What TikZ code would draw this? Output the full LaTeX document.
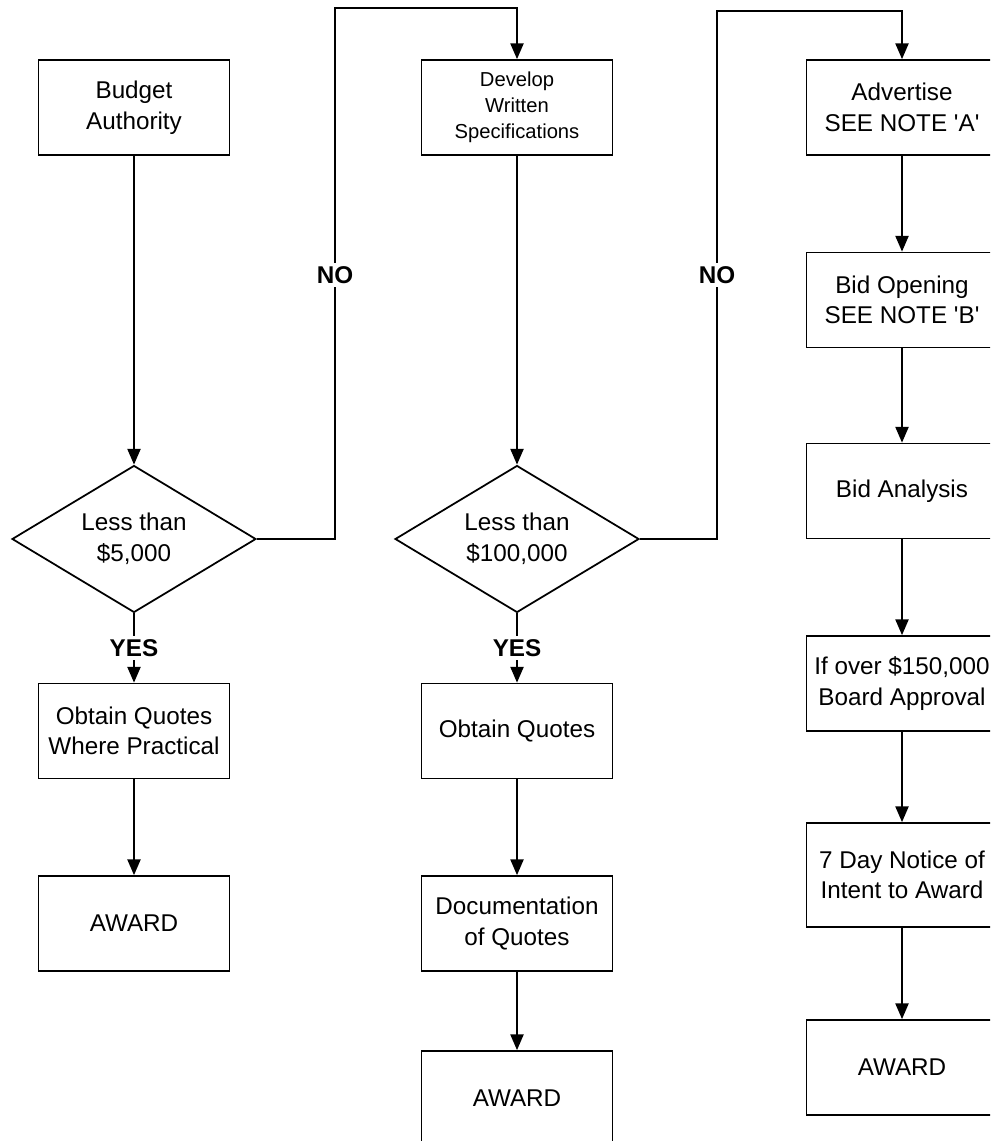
\documentclass[tikz,border=0pt]{standalone}
\usepackage{fontspec}
\setmainfont{Liberation Sans}[Ligatures=TeXOff]
\usetikzlibrary{shapes.geometric,arrows.meta}

\begin{document}
\begin{tikzpicture}[x=0.02cm,y=-0.02cm,line width=1pt,
    box/.style={draw,rectangle,align=center,inner sep=0pt,
        minimum width=3.82cm,minimum height=1.9cm,
        font=\fontsize{13.8}{17.4}\selectfont},
    smallbox/.style={box,font=\fontsize{11.5}{14.7}\selectfont},
    test/.style={draw,diamond,aspect=1.66,align=center,inner sep=0pt,
        minimum width=4.88cm,minimum height=2.94cm,
        font=\fontsize{13.8}{17.4}\selectfont},
    answer/.style={fill=white,inner sep=2pt,
        font=\bfseries\fontsize{13.8}{16}\selectfont},
    arr/.style={-{Triangle[width=7.5pt,length=9pt]}}]
    \useasboundingbox (0,0) rectangle (990,1141);
    \clip (0,0) rectangle (990,1141);

    \def\colA{134}
    \def\colB{517}
    \def\colC{902}

    % left column
    \node[box] (budget) at (\colA,107.5) {Budget\\Authority};
    \node[test] (less5k) at (\colA,539) {Less than\\\$5,000};
    \node[box] (quotesA) at (\colA,731) {Obtain Quotes\\Where Practical};
    \node[box] (awardA) at (\colA,923.5) {AWARD};

    % middle column
    \node[smallbox] (specs) at (\colB,107.5) {Develop\\Written\\Specifications};
    \node[test] (less100k) at (\colB,539) {Less than\\\$100,000};
    \node[box] (quotesB) at (\colB,731) {Obtain Quotes};
    \node[box] (docs) at (\colB,923.5) {Documentation\\of Quotes};
    \node[box] (awardB) at (\colB,1098.5) {AWARD};

    % right column
    \node[box] (advert) at (\colC,107.5) {Advertise\\SEE NOTE 'A'};
    \node[box] (opening) at (\colC,300) {Bid Opening\\SEE NOTE 'B'};
    \node[box] (analysis) at (\colC,491) {Bid Analysis};
    \node[box] (board) at (\colC,683.5) {If over \$150,000\\Board Approval};
    \node[box,minimum height=2.08cm] (notice) at (\colC,875) {7 Day Notice of\\Intent to Award};
    \node[box] (awardC) at (\colC,1067.5) {AWARD};

    \draw[arr] (budget) -- (less5k);
    \draw[arr] (less5k) -- node[answer] (yesA) {YES} (quotesA);
    \draw[arr] (quotesA) -- (awardA);

    \draw[arr] (specs) -- (less100k);
    \draw[arr] (less100k) -- node[answer] (yesB) {YES} (quotesB);
    \draw[arr] (quotesB) -- (docs);
    \draw[arr] (docs) -- (awardB);

    \foreach \from/\to in {advert/opening,opening/analysis,analysis/board,
        board/notice,notice/awardC}
        \draw[arr] (\from) -- (\to);

    % the NO branches
    \coordinate (jogA) at (335,8);
    \coordinate (jogB) at (717,11);
    \draw[arr] (less5k.east) -| (jogA) -| (specs.north);
    \draw[arr] (less100k.east) -| (jogB) -| (advert.north);
    \node[answer] (noA) at (335,275) {NO};
    \node[answer] (noB) at (717,275) {NO};
\end{tikzpicture}
\end{document}
